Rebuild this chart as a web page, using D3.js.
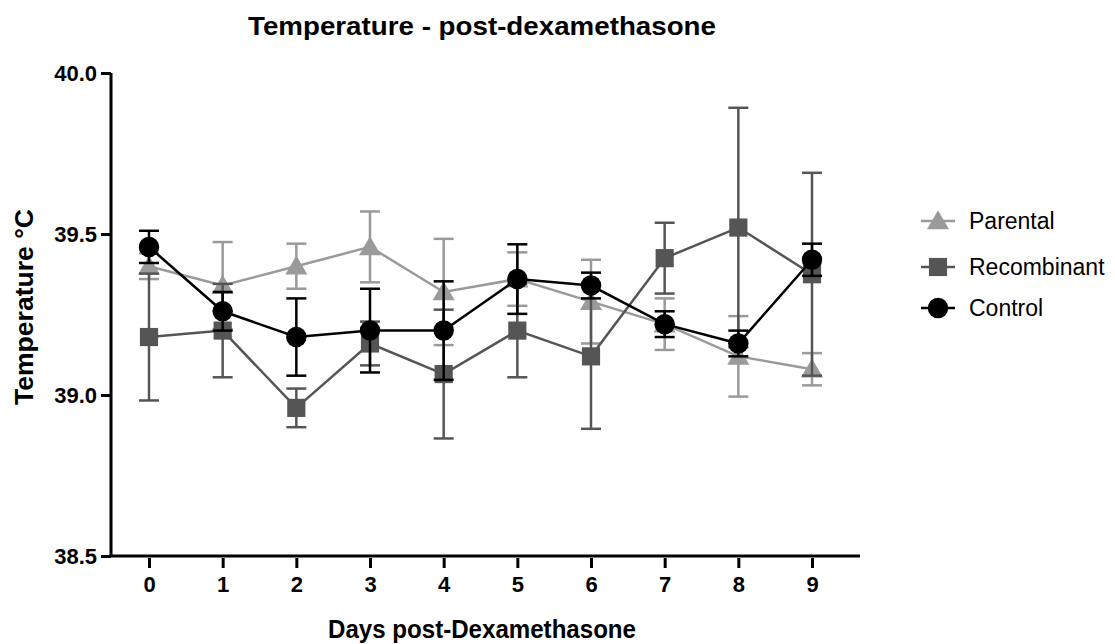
<!DOCTYPE html>
<html><head><meta charset="utf-8">
<script src="https://cdn.jsdelivr.net/npm/d3@7"></script>
<style>body{margin:0;background:#fff;} svg{display:block;font-family:"Liberation Sans",Arial,Helvetica,sans-serif;}</style>
</head><body>
<script>
const days = [0,1,2,3,4,5,6,7,8,9];
const xTickLabels = ["0","1","2","3","4","5","6","7","8","9"];
const yTicks = [38.5, 39.0, 39.5, 40.0];
const seriesNames = ["Parental","Recombinant","Control"];
const parentalMean = [39.40,39.34,39.40,39.46,39.32,39.36,39.29,39.22,39.12,39.08];
const parentalErr  = [0.04,0.135,0.07,0.11,0.165,0.083,0.13,0.08,0.125,0.05];
const recombMean   = [39.18,39.20,38.96,39.16,39.065,39.20,39.12,39.425,39.52,39.375];
const recombErr    = [0.197,0.145,0.06,0.068,0.20,0.145,0.225,0.11,0.372,0.315];
const controlMean  = [39.46,39.26,39.18,39.20,39.20,39.36,39.34,39.22,39.16,39.42];
const controlErr   = [0.05,0.06,0.12,0.13,0.153,0.108,0.04,0.04,0.04,0.05];
const colors = ["#9a9a9a","#555555","#000000"];

const W = 1115, H = 644;
const svg = d3.select("body").append("svg").attr("width",W).attr("height",H);

const x = d3.scaleLinear().domain([0,9]).range([149,812]);
const y = d3.scaleLinear().domain([38.5,40.0]).range([556,73]);

// titles
svg.append("text").attr("x",482).attr("y",35).attr("text-anchor","middle")
  .attr("font-size",26).attr("font-weight","bold")
  .attr("textLength",468).attr("lengthAdjust","spacingAndGlyphs").text("Temperature - post-dexamethasone");
svg.append("text").attr("x",482).attr("y",638).attr("text-anchor","middle")
  .attr("font-size",25).attr("font-weight","bold")
  .attr("textLength",308).attr("lengthAdjust","spacingAndGlyphs").text("Days post-Dexamethasone");
svg.append("text").attr("transform","translate(33,307) rotate(-90)").attr("text-anchor","middle")
  .attr("font-size",25).attr("font-weight","bold")
  .attr("textLength",196).attr("lengthAdjust","spacingAndGlyphs").text("Temperature °C");

// y axis
const yAxis = d3.axisLeft(y).tickValues(yTicks).tickFormat(d3.format(".1f")).tickSize(10).tickPadding(4);
const gy = svg.append("g").attr("transform","translate(111,0)").call(yAxis);
gy.select(".domain").attr("stroke","#000").attr("stroke-width",3).attr("d","M0,"+y(38.5)+"V"+y(40.0));
gy.selectAll(".tick line").attr("stroke-width",3);
gy.selectAll("text").attr("font-size",22).attr("font-weight","bold").attr("fill","#000").attr("dy","0.36em");

// x axis
const xAxis = d3.axisBottom(x).tickValues(days).tickFormat((d,i)=>xTickLabels[i]).tickSize(12).tickPadding(8);
const gx = svg.append("g").attr("transform","translate(0,556)").call(xAxis);
gx.select(".domain").attr("stroke-width",3).attr("d","M109.5,0H860");
gx.selectAll(".tick line").attr("stroke-width",3).attr("y1",2);
gx.selectAll("text").attr("font-size",22).attr("font-weight","bold").attr("fill","#000").attr("y",20).attr("dy","0.71em");

const series = [
  {name:seriesNames[0], mean:parentalMean, err:parentalErr, color:colors[0], sym:d3.symbolTriangle, size:210},
  {name:seriesNames[1], mean:recombMean, err:recombErr, color:colors[1], sym:d3.symbolSquare, size:330},
  {name:seriesNames[2], mean:controlMean, err:controlErr, color:colors[2], sym:d3.symbolCircle, size:330}
];

const line = d3.line().x((d,i)=>x(days[i])).y(d=>y(d));
const capW = 10;
series.forEach(s=>{
  const g = svg.append("g");
  days.forEach((d,i)=>{
    const cx = x(d), top = y(s.mean[i]+s.err[i]), bot = y(s.mean[i]-s.err[i]);
    g.append("line").attr("x1",cx).attr("x2",cx).attr("y1",top).attr("y2",bot).attr("stroke",s.color).attr("stroke-width",2.5);
    g.append("line").attr("x1",cx-capW).attr("x2",cx+capW).attr("y1",top).attr("y2",top).attr("stroke",s.color).attr("stroke-width",2.5);
    g.append("line").attr("x1",cx-capW).attr("x2",cx+capW).attr("y1",bot).attr("y2",bot).attr("stroke",s.color).attr("stroke-width",2.5);
  });
  g.append("path").attr("d",line(s.mean)).attr("fill","none").attr("stroke",s.color).attr("stroke-width",2.5);
  g.selectAll("path.m").data(s.mean).enter().append("path").attr("class","m")
    .attr("d",d3.symbol().type(s.sym).size(s.size))
    .attr("transform",(d,i)=>"translate("+x(days[i])+","+(y(d)+(s.sym===d3.symbolTriangle?2:0))+")")
    .attr("fill",s.color);
});

// legend
const legY = [221,267,308];
series.forEach((s,i)=>{
  const g = svg.append("g").attr("transform","translate(938,"+legY[i]+")");
  g.append("line").attr("x1",-17).attr("x2",17).attr("stroke",s.color).attr("stroke-width",2.5);
  g.append("path").attr("d",d3.symbol().type(s.sym).size(s.size)).attr("fill",s.color)
    .attr("transform", s.sym===d3.symbolTriangle?"translate(0,2)":null);
  g.append("text").attr("x",31).attr("y",8).attr("font-size",23).attr("fill","#000").text(s.name);
});
</script>
</body></html>
